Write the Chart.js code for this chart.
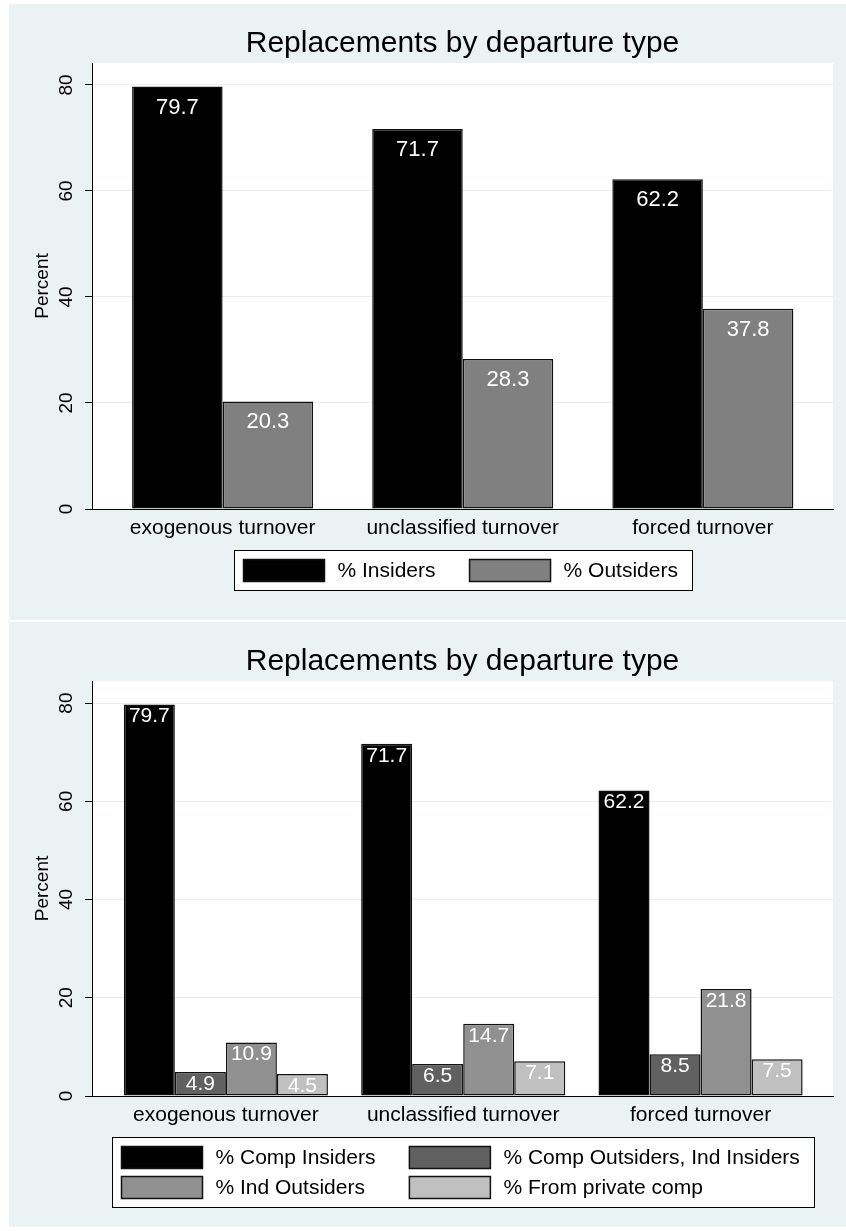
<!DOCTYPE html>
<html>
<head>
<meta charset="utf-8">
<script src="https://cdn.jsdelivr.net/npm/chart.js@4.4.1/dist/chart.umd.min.js"></script>
<style>
  body { margin: 0; background: #fff; width: 846px; height: 1231px; position: relative; overflow: hidden; }
  .panel { position: absolute; left: 9px; width: 837px; background: #eaf2f3; }
  #p1 { top: 4px; height: 616px; }
  #p2 { top: 622px; height: 605px; }
  canvas { display: block; }
</style>
</head>
<body>
<div class="panel" id="p1"><canvas id="c1" width="837" height="616"></canvas></div>
<div class="panel" id="p2"><canvas id="c2" width="837" height="605"></canvas></div>
<script>
// データ
const categories = ['exogenous turnover', 'unclassified turnover', 'forced turnover'];
const yTicks = [0, 20, 40, 60, 80];

// 上段: 内部 / 外部
const pctInsiders = [79.7, 71.7, 62.2];
const pctOutsiders = [20.3, 28.3, 37.8];

// 下段: 4区分
const pctCompInsiders = [79.7, 71.7, 62.2];
const pctCompOutIndIns = [4.9, 6.5, 8.5];
const pctIndOutsiders = [10.9, 14.7, 21.8];
const pctPrivateComp = [4.5, 7.1, 7.5];

const FONT = '"Liberation Sans", Arial, Helvetica, sans-serif';

function toPoints(values) {
  return values.map((v, i) => ({ x: i + 1, y: v }));
}

// プロット領域を白で塗る
const plotBg = {
  id: 'plotBg',
  beforeDraw(chart) {
    const { ctx, chartArea: a } = chart;
    ctx.save();
    ctx.fillStyle = '#ffffff';
    ctx.fillRect(a.left, a.top, a.right - a.left, a.bottom - a.top);
    ctx.restore();
  }
};

// 棒の中の数値ラベル
const barValues = {
  id: 'barValues',
  afterDatasetsDraw(chart, args, opts) {
    const ctx = chart.ctx;
    ctx.save();
    ctx.fillStyle = '#ffffff';
    ctx.font = opts.size + 'px ' + FONT;
    ctx.textAlign = 'center';
    ctx.textBaseline = 'middle';
    chart.data.datasets.forEach((ds, di) => {
      chart.getDatasetMeta(di).data.forEach((bar, i) => {
        ctx.fillText(ds.data[i].y.toFixed(1), bar.x, bar.y + opts.offset);
      });
    });
    ctx.restore();
  }
};

// 枠付き凡例 (列揃え)
const boxLegend = {
  id: 'boxLegend',
  afterDraw(chart, args, opts) {
    const { ctx, chartArea } = chart;
    const sets = chart.data.datasets;
    const cols = opts.columns;
    const rows = Math.ceil(sets.length / cols);
    const boxW = 81, boxH = 22, textGap = 13, colGap = 34, rowGap = 8;
    const padL = 9, padR = 15, padY = 9;
    ctx.save();
    ctx.font = opts.size + 'px ' + FONT;
    const colW = [];
    sets.forEach((ds, i) => {
      const c = i % cols;
      const w = boxW + textGap + ctx.measureText(ds.label).width;
      colW[c] = Math.max(colW[c] || 0, w);
    });
    const innerW = colW.reduce((a, b) => a + b, 0) + colGap * (cols - 1);
    const w = Math.round(innerW + padL + padR);
    const h = rows * boxH + (rows - 1) * rowGap + padY * 2;
    const left = Math.round((chartArea.left + chartArea.right) / 2 - w / 2) + 0.5;
    const top = Math.round(chartArea.bottom + opts.offsetY) + 0.5;
    ctx.fillStyle = '#ffffff';
    ctx.fillRect(left, top, w, h);
    ctx.strokeStyle = '#000000';
    ctx.lineWidth = 1;
    ctx.strokeRect(left, top, w, h);
    sets.forEach((ds, i) => {
      const c = i % cols;
      const r = Math.floor(i / cols);
      let x = left + padL;
      for (let k = 0; k < c; k++) x += colW[k] + colGap;
      const y = top + padY + r * (boxH + rowGap);
      ctx.fillStyle = ds.backgroundColor;
      ctx.fillRect(x, y, boxW, boxH);
      ctx.lineWidth = 1.5;
      ctx.strokeStyle = '#111111';
      ctx.strokeRect(x, y, boxW, boxH);
      ctx.fillStyle = '#000000';
      ctx.textAlign = 'left';
      ctx.textBaseline = 'middle';
      ctx.fillText(ds.label, x + boxW + textGap, y + boxH / 2 + 1);
    });
    ctx.restore();
  }
};

function makeChart(id, cfg) {
  return new Chart(document.getElementById(id), {
    type: 'bar',
    data: {
      datasets: cfg.series.map(s => ({
        label: s.label,
        data: toPoints(s.values),
        backgroundColor: s.color,
        borderColor: '#111111',
        borderWidth: 1.5,
        borderSkipped: false,
        categoryPercentage: cfg.groupWidth,
        barPercentage: 1
      }))
    },
    options: {
      responsive: false,
      animation: false,
      layout: { padding: { left: 0, right: 13, top: 0, bottom: 0 } },
      plugins: {
        legend: { display: false },
        tooltip: { enabled: false },
        title: {
          display: true,
          text: 'Replacements by departure type',
          fullSize: false,
          color: '#000',
          font: { family: FONT, size: 30, weight: 'normal' },
          padding: { top: 22, bottom: 1 }
        },
        barValues: { offset: cfg.labelOffset, size: cfg.labelSize },
        boxLegend: { columns: 2, offsetY: 41, size: 21 }
      },
      scales: {
        x: {
          type: 'linear',
          offset: false,
          min: cfg.xMin,
          max: cfg.xMax,
          afterBuildTicks: s => { s.ticks = categories.map((c, i) => ({ value: i + 1 })); },
          afterFit: s => { s.height = cfg.xAxisHeight; },
          grid: { display: false, drawTicks: false, offset: false },
          border: { display: true, color: '#000', width: 1 },
          ticks: {
            callback: v => categories[v - 1],
            color: '#000',
            font: { family: FONT, size: 21 },
            padding: 7,
            maxRotation: 0,
            autoSkip: false
          }
        },
        y: {
          min: 0,
          max: cfg.yMax,
          afterBuildTicks: s => { s.ticks = yTicks.map(v => ({ value: v })); },
          afterFit: s => { s.width = 83; },
          grid: {
            color: c => (c.tick && c.tick.value === 0) ? 'rgba(0,0,0,0)' : '#e6eff1',
            tickColor: '#000',
            tickLength: 7,
            lineWidth: 1
          },
          border: { display: true, color: '#000', width: 1 },
          ticks: {
            color: '#000',
            font: { family: FONT, size: 19 },
            padding: 8,
            minRotation: 90,
            maxRotation: 90,
            crossAlign: 'center'
          },
          title: {
            display: true,
            text: 'Percent',
            color: '#000',
            font: { family: FONT, size: 19 },
            padding: { top: 22, bottom: 0 }
          }
        }
      }
    },
    plugins: [plotBg, barValues, boxLegend]
  });
}

makeChart('c1', {
  series: [
    { label: '% Insiders', values: pctInsiders, color: '#000000' },
    { label: '% Outsiders', values: pctOutsiders, color: '#808080' }
  ],
  xMin: 0.456, xMax: 3.542, yMax: 84.15,
  groupWidth: 0.754, labelOffset: 21, labelSize: 22, xAxisHeight: 111
});

makeChart('c2', {
  series: [
    { label: '% Comp Insiders', values: pctCompInsiders, color: '#000000' },
    { label: '% Comp Outsiders, Ind Insiders', values: pctCompOutIndIns, color: '#606060' },
    { label: '% Ind Outsiders', values: pctIndOutsiders, color: '#909090' },
    { label: '% From private comp', values: pctPrivateComp, color: '#c0c0c0' }
  ],
  xMin: 0.436, xMax: 3.558, yMax: 84.5,
  groupWidth: 0.86, labelOffset: 12, labelSize: 21, xAxisHeight: 131
});
</script>
</body>
</html>
